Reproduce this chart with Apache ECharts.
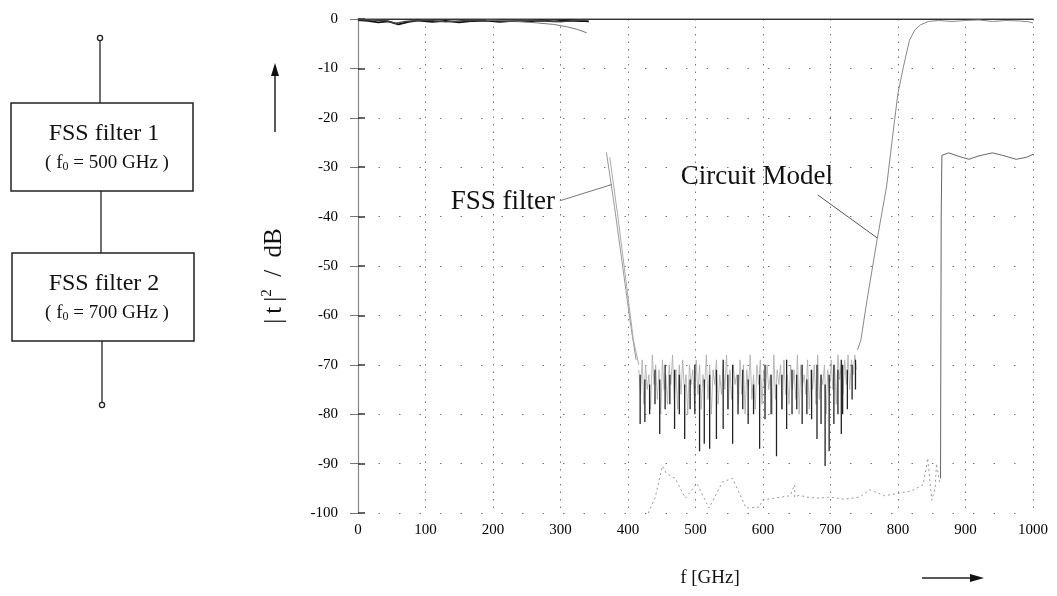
<!DOCTYPE html>
<html><head><meta charset="utf-8">
<script src="https://cdn.jsdelivr.net/npm/echarts@6/dist/echarts.min.js"></script>
<style>html,body{margin:0;padding:0;background:#fff}#c{width:1057px;height:596px}</style>
</head><body><div id="c"></div>
<script>
// ---- axis ticks ----
const xTickValues = [0,100,200,300,400,500,600,700,800,900,1000];
const yTickValues = [0,-10,-20,-30,-40,-50,-60,-70,-80,-90,-100];

// ---- passband (0 dB) curves, low frequency side [GHz, dB] ----
const topCurveA = [[0,-0.2],[15,-0.4],[30,-0.7],[45,-0.5],[60,-1.1],[75,-0.6],[90,-0.3],[110,-0.6],[130,-0.4],[150,-0.7],[170,-0.4],[190,-0.3],[210,-0.6],[230,-0.4],[250,-0.5],[270,-0.3],[290,-0.5],[310,-0.3],[330,-0.4],[342,-0.5]];
const topCurveB = [[0,-0.1],[20,-0.2],[40,-0.3],[55,-0.9],[70,-0.5],[100,-0.2],[130,-0.6],[160,-0.3],[190,-0.2],[220,-0.4],[250,-0.2],[280,-0.4],[300,-0.6],[320,-0.3],[340,-0.2]];
const droopCurve = [[190,-0.2],[230,-0.4],[266,-0.8],[290,-1.1],[310,-1.6],[325,-2.1],[339,-2.8]];

// ---- steep skirts near 400 GHz ----
const skirtA = [[368,-27],[380,-38],[392,-50],[404,-62],[412,-69]];
const skirtB = [[373,-28],[385,-40],[397,-53],[408,-65],[416,-70]];

// ---- stop band: light noise band, x from 416 GHz in 2.5 GHz steps ----
const bandStart = 416, bandStep = 2.5;
const noiseBand = [-71,-76,-69,-78,-70,-75,-72,-79,-68,-74,-70,-77,-71,-80,-69,-75,-72,-78,-70,-74,
 -68,-77,-71,-79,-70,-76,-69,-75,-72,-80,-70,-74,-71,-78,-69,-76,-70,-79,-72,-75,
 -68,-77,-70,-80,-71,-74,-69,-78,-72,-76,-70,-75,-68,-79,-71,-77,-70,-74,-72,-78,
 -69,-76,-70,-80,-71,-75,-68,-77,-72,-79,-70,-74,-69,-78,-71,-76,-70,-75,-72,-80,
 -68,-77,-71,-74,-70,-79,-69,-76,-72,-78,-70,-75,-71,-77,-68,-80,-70,-74,-72,-76,
 -69,-79,-71,-75,-70,-78,-68,-77,-72,-74,-70,-80,-71,-76,-69,-75,-70,-78,-68,-73,
 -70,-76,-69,-74,-68,-75,-69,-72,-68,-71];

// ---- stop band: dark vertical spikes of the FSS filter response ----
const spikeFreq   = [418,425,432,440,447,455,462,469,476,484,492,499,506,513,521,531,541,548,555,563,570,578,586,595,603,612,620,628,635,643,650,658,665,672,680,686,692,698,705,711,716,718,725,732,737];
const spikeTop    = [-72,-73,-74,-71,-73,-70,-72,-71,-72,-74,-73,-70,-74,-73,-72,-71,-69,-72,-70,-72,-71,-73,-74,-72,-70,-72,-74,-72,-69,-71,-72,-70,-73,-71,-70,-72,-74,-72,-70,-71,-69,-70,-71,-70,-69];
const spikeBottom = [-82,-81.6,-80,-78,-84,-79,-78,-83,-80,-85,-79,-80,-87.5,-86,-87,-85,-83,-79,-86,-80,-79,-82,-80,-87,-81,-80,-88.5,-79,-83,-80,-79,-82,-80,-81,-85,-82,-90.5,-87.5,-82,-80,-84,-80,-79,-77,-75];

// ---- circuit model upper skirt and passband above 740 GHz ----
const circuitRise = [[740,-67],[745,-65],[754,-57],[769,-44.7],[783,-34],[795,-20.4],[800,-15],[808,-9.7],[817,-4.3],[825,-2.2],[833,-1.2],[845,-0.5],[860,-0.3],[880,-0.5],[900,-0.3],[920,-0.2],[940,-0.5],[960,-0.3],[980,-0.4],[995,-0.6],[1000,-0.8]];

// ---- low curve near -95 dB and the -27 dB ripple ----
const lowCurve = [[430,-100],[440,-97],[451,-90.5],[457,-92],[470,-93],[485,-97],[502,-94],[520,-99],[540,-93.7],[555,-93],[575,-99],[595,-98.8],[599,-97.4],[617,-97],[640,-96.5],[647,-94.3],[647,-96.8],[654,-96.4],[665,-96.8],[680,-97],[699,-96.8],[720,-97.2],[743,-96.8],[758,-95.3],[780,-96.5],[802,-96],[820,-95.5],[837,-94.3],[842,-90.7],[844,-88.9],[847,-93.3],[850,-97.4],[855,-95],[857,-90],[862,-94]];
const rippleCurve = [[863,-93],[864,-40],[865,-27.6],[875,-27.1],[890,-27.8],[905,-28.4],[920,-27.7],[940,-27.1],[955,-27.6],[975,-28.4],[990,-28],[1000,-27.4]];

// ---- annotation leader lines ----
const fssLeader = [[299,-36.8],[376,-33.5]];
const circuitLeader = [[681,-35.6],[769,-44.3]];

const bandPts = noiseBand.map((v,i)=>[bandStart+i*bandStep, v]);
const spikePts = [];
spikeFreq.forEach((f,i)=>{ spikePts.push([f,spikeTop[i]],[f,spikeBottom[i]],[f,'-']); });

const FONT = '"Liberation Serif", "DejaVu Serif", serif';
const chart = echarts.init(document.getElementById('c'), null, {renderer:'canvas'});

function ln(data, color, width, type, z){
  return {type:'line', data, symbol:'none', silent:true, animation:false, z:z||2, connectNulls:false,
    lineStyle:{color, width, type:type||'solid'}};
}

const box = (x,y,w,h)=>({type:'rect', shape:{x,y,width:w,height:h}, style:{fill:'none', stroke:'#222', lineWidth:1.5}});
const seg = (x1,y1,x2,y2,w)=>({type:'line', shape:{x1,y1,x2,y2}, style:{stroke:'#222', lineWidth:w||1.3}});
const dot = (cx,cy)=>({type:'circle', shape:{cx,cy,r:2.6}, style:{fill:'#fff', stroke:'#222', lineWidth:1.3}});
const txt = (x,y,text,size,rich)=>({type:'text', x, y, style:{text, fill:'#111', font:size+'px '+FONT, textAlign:'center', textVerticalAlign:'middle', rich}});
const subRich = {s:{fontSize:12, fontFamily:FONT, fill:'#111', verticalAlign:'bottom', padding:[7,0,0,0]}, n:{fontSize:19, fontFamily:FONT, fill:'#111'}};

chart.setOption({
  backgroundColor:'#fff',
  animation:false,
  grid:{left:358, right:24, top:19, bottom:83},
  xAxis:[{type:'value', min:0, max:1000, interval:100,
      axisLine:{show:true, lineStyle:{color:'#888', width:1.5}},
      axisTick:{show:false},
      axisLabel:{fontFamily:FONT, fontSize:15, color:'#000', margin:10,
        formatter:v=>xTickValues.includes(v)?String(v):''},
      splitLine:{show:true, lineStyle:{color:'#777', width:1, type:[1.5,6]}}},
    {type:'value', position:'top', min:0, max:1000, interval:100,
      axisLine:{show:true, lineStyle:{color:'#333', width:1}},
      axisTick:{show:false}, axisLabel:{show:false}, splitLine:{show:false}}],
  yAxis:[{type:'value', min:-100, max:0, interval:10,
      axisLine:{show:false},
      axisTick:{show:true, inside:true, length:7, lineStyle:{color:'#333', width:1.5}},
      axisLabel:{fontFamily:FONT, fontSize:15, color:'#000', margin:20,
        formatter:v=>yTickValues.includes(v)?String(v):''},
      splitLine:{show:true, lineStyle:{color:'#777', width:1, type:[1.5,19]}}},
    {type:'value', position:'right', min:-100, max:0, interval:10,
      axisLine:{show:true, lineStyle:{color:'#888', width:1.2}},
      axisTick:{show:true, inside:true, length:8, lineStyle:{color:'#777'}},
      axisLabel:{show:false}, splitLine:{show:false}}],
  series:[
    ln(topCurveA,'#111',1.8),
    ln(topCurveB,'#444',1.3),
    ln(droopCurve,'#777',1),
    ln(skirtA,'#999',1),
    ln(skirtB,'#aaa',1),
    ln(bandPts,'#aaa',0.8,'solid',2),
    ln(spikePts,'#222',1.3,'solid',3),
    ln(circuitRise,'#888',1),
    ln(lowCurve,'#999',1,[2,3]),
    ln(rippleCurve,'#666',1),
    ln(fssLeader,'#777',1),
    ln(circuitLeader,'#555',1)
  ],
  graphic:[
    // block diagram
    dot(100,38), seg(100,41,100,103),
    box(11,103,182,88),
    seg(101,191,101,253),
    box(12,253,182,88),
    seg(102,341,102,402), dot(102,405),
    txt(104,134,'FSS filter 1',24),
    txt(107,163,'{n|( f}{s|0}{n| = 500 GHz )}',19,subRich),
    txt(104,284,'FSS filter 2',24),
    txt(107,313,'{n|( f}{s|0}{n| = 700 GHz )}',19,subRich),
    // annotations
    {type:'text', x:555, y:202, style:{text:'FSS filter', fill:'#111', font:'27px '+FONT, textAlign:'right', textVerticalAlign:'middle'}},
    {type:'text', x:833, y:177, style:{text:'Circuit Model', fill:'#111', font:'27px '+FONT, textAlign:'right', textVerticalAlign:'middle'}},
    // y axis title and arrow
    {type:'text', x:274, y:276, rotation:Math.PI/2, style:{text:'{a||\u2009t\u2009|}{b|2}{a|  /  dB}', textAlign:'center', textVerticalAlign:'middle',
      rich:{a:{fontSize:25, fontFamily:FONT, fill:'#111'}, b:{fontSize:15, fontFamily:FONT, fill:'#111', verticalAlign:'top', padding:[0,0,14,0]}}}},
    seg(275,132,275,74,1.5),
    {type:'polygon', shape:{points:[[275,63],[271,76],[279,76]]}, style:{fill:'#111'}},
    // x axis title and arrow
    {type:'text', x:710, y:578, style:{text:'f [GHz]', fill:'#111', font:'19px '+FONT, textAlign:'center', textVerticalAlign:'middle'}},
    seg(922,578,972,578,1.5),
    {type:'polygon', shape:{points:[[984,578],[970,574],[970,582]]}, style:{fill:'#111'}}
  ]
});
</script></body></html>
